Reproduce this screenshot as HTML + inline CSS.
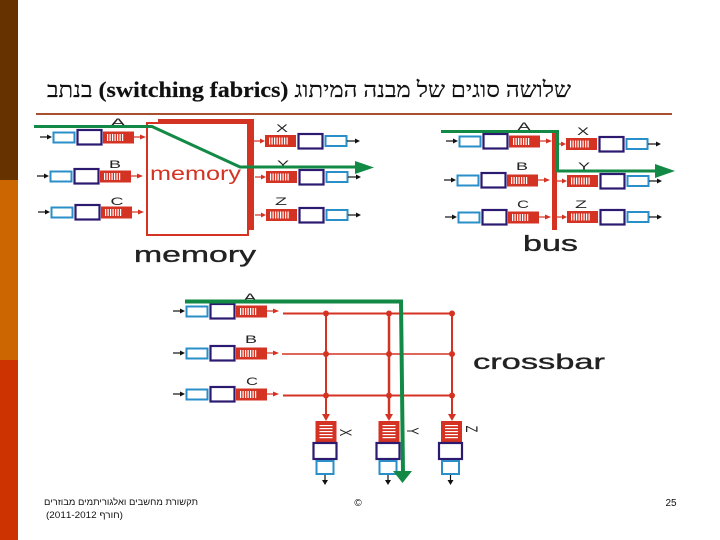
<!DOCTYPE html>
<html lang="he">
<head>
<meta charset="utf-8">
<style>
html,body{margin:0;padding:0;background:#fff;width:720px;height:540px;overflow:hidden}
svg{display:block}
.lbl{font-family:"Liberation Sans",sans-serif;fill:#222}
.cap{stroke:#222;stroke-width:.35}
</style>
</head>
<body>
<svg width="720" height="540" viewBox="0 0 720 540" xmlns="http://www.w3.org/2000/svg">
<defs>
  <!-- input port: origin at row centre, x=0 at start of black arrow -->
  <g id="inp">
    <path d="M0 0H8" stroke="#111" stroke-width="1.2"/><path d="M7 -2.5L12 0L7 2.5Z" fill="#111"/>
    <rect x="13.5" y="-4.5" width="21" height="10" fill="#fff" stroke="#2a8fc8" stroke-width="2"/>
    <rect x="37.5" y="-7" width="24" height="14.500" fill="#fff" stroke="#2b1a70" stroke-width="2.2"/>
    <rect x="63" y="-5.500" width="31" height="12" fill="#d43324"/>
    <g fill="#fff"><rect x="67" y="-3" width="1.2" height="7"/><rect x="69.500" y="-3" width="1.200" height="7"/><rect x="72" y="-3" width="1.200" height="7"/><rect x="74.500" y="-3" width="1.200" height="7"/><rect x="77" y="-3" width="1.200" height="7"/><rect x="79.500" y="-3" width="1.200" height="7"/><rect x="82" y="-3" width="1.200" height="7"/></g>
    <path d="M94 0H102" stroke="#d43324" stroke-width="1.200"/><path d="M100 -2.500L106 0L100 2.500Z" fill="#d43324"/>
  </g>
  <!-- output port: x=0 at start of red arrow -->
  <g id="outp">
    <path d="M0 0H7" stroke="#d43324" stroke-width="1.200"/><path d="M6 -2.500L11 0L6 2.500Z" fill="#d43324"/>
    <rect x="11" y="-6" width="31" height="12" fill="#d43324"/>
    <g fill="#fff"><rect x="15" y="-3.500" width="1.200" height="7"/><rect x="17.500" y="-3.500" width="1.200" height="7"/><rect x="20" y="-3.500" width="1.200" height="7"/><rect x="22.500" y="-3.500" width="1.200" height="7"/><rect x="25" y="-3.500" width="1.200" height="7"/><rect x="27.500" y="-3.500" width="1.200" height="7"/><rect x="30" y="-3.500" width="1.200" height="7"/><rect x="32.500" y="-3.500" width="1.200" height="7"/></g>
    <rect x="44.500" y="-7" width="24" height="14.500" fill="#fff" stroke="#2b1a70" stroke-width="2.2"/>
    <rect x="71.500" y="-5" width="21" height="10" fill="#fff" stroke="#2a8fc8" stroke-width="2"/>
    <path d="M93 0H102" stroke="#111" stroke-width="1.200"/><path d="M101 -2.500L106 0L101 2.500Z" fill="#111"/>
  </g>
  <!-- crossbar vertical output -->
  <g id="vout">
    <rect x="2" y="0" width="21" height="21" fill="#d43324"/>
    <g fill="#fff"><rect x="6" y="4" width="13" height="1.200"/><rect x="6" y="7" width="13" height="1.200"/><rect x="6" y="10" width="13" height="1.200"/><rect x="6" y="13" width="13" height="1.200"/><rect x="6" y="16" width="13" height="1.200"/></g>
    <rect x="0" y="22" width="23" height="16" fill="#fff" stroke="#2b1a70" stroke-width="2.2"/>
    <rect x="3" y="40" width="17" height="13" fill="#fff" stroke="#2a8fc8" stroke-width="2"/>
    <path d="M11.500 54V60" stroke="#111" stroke-width="1.200"/><path d="M8.500 59H14.500L11.500 64Z" fill="#111"/>
  </g>
</defs>

<rect width="720" height="540" fill="#fff"/>
<!-- sidebar -->
<rect x="0" y="0" width="18" height="180" fill="#663300"/>
<rect x="0" y="180" width="18" height="180" fill="#cc6600"/>
<rect x="0" y="360" width="18" height="180" fill="#cc3300"/>

<!-- title -->
<text x="571" y="97" direction="rtl" text-anchor="start" textLength="524" lengthAdjust="spacingAndGlyphs" font-family="'Liberation Serif','Noto Serif CJK SC',serif" font-size="22" fill="#111" stroke="#111" stroke-width=".2">שלושה סוגים של מבנה המיתוג <tspan font-weight="bold">(switching fabrics)</tspan> בנתב</text>
<rect x="36" y="113" width="636" height="2" fill="#a8502f"/>

<!-- MEMORY -->
<path d="M158 119H254V230H248V122H158Z" fill="#d43324"/>
<rect x="147" y="123" width="101" height="112" fill="#fff" stroke="#d43324" stroke-width="2"/>
<rect x="248" y="119" width="6" height="111" fill="#d43324"/>
<use href="#inp" x="40" y="137"/>
<use href="#inp" x="37" y="176"/>
<use href="#inp" x="38" y="212"/>
<use href="#outp" x="254" y="141"/>
<use href="#outp" x="255" y="177"/>
<use href="#outp" x="255" y="215"/>
<text x="150" y="180" class="lbl" style="fill:#d43324" font-size="19" textLength="91" lengthAdjust="spacingAndGlyphs">memory</text>
<text x="134" y="262" class="lbl cap" font-size="22.500" textLength="122" lengthAdjust="spacingAndGlyphs">memory</text>
<g class="lbl" font-size="11" text-anchor="middle">
  <text x="118" y="126" textLength="15" lengthAdjust="spacingAndGlyphs">A</text>
  <text x="115" y="168" textLength="12" lengthAdjust="spacingAndGlyphs">B</text>
  <text x="117" y="205" textLength="13" lengthAdjust="spacingAndGlyphs">C</text>
  <text x="282" y="132" textLength="12" lengthAdjust="spacingAndGlyphs">X</text>
  <text x="283" y="168" textLength="12" lengthAdjust="spacingAndGlyphs">Y</text>
  <text x="281" y="205" textLength="12" lengthAdjust="spacingAndGlyphs">Z</text>
</g>
<path d="M34 126.500H152L240 167H356" fill="none" stroke="#128a46" stroke-width="3"/>
<path d="M355 161L374 167.500L355 174Z" fill="#128a46"/>

<!-- BUS -->
<use href="#inp" x="446" y="141"/>
<use href="#inp" x="444" y="180"/>
<use href="#inp" x="445" y="217"/>
<use href="#outp" x="555" y="144"/>
<use href="#outp" x="556" y="181"/>
<use href="#outp" x="556" y="217"/>
<rect x="552" y="132" width="5" height="98" fill="#d43324"/>
<g class="lbl" font-size="11" text-anchor="middle">
  <text x="524" y="130" textLength="13" lengthAdjust="spacingAndGlyphs">A</text>
  <text x="522" y="170" textLength="12" lengthAdjust="spacingAndGlyphs">B</text>
  <text x="523" y="208" textLength="12" lengthAdjust="spacingAndGlyphs">C</text>
  <text x="583" y="135" textLength="12" lengthAdjust="spacingAndGlyphs">X</text>
  <text x="584" y="170" textLength="12" lengthAdjust="spacingAndGlyphs">Y</text>
  <text x="581" y="208" textLength="12" lengthAdjust="spacingAndGlyphs">Z</text>
</g>
<text x="523" y="251" class="lbl cap" font-size="22" textLength="55" lengthAdjust="spacingAndGlyphs">bus</text>
<path d="M441 131.500H557.500V171H660" fill="none" stroke="#128a46" stroke-width="3"/>
<path d="M655 164L675 171L655 178Z" fill="#128a46"/>

<!-- CROSSBAR -->
<use href="#inp" x="173" y="311"/>
<use href="#inp" x="173" y="353"/>
<use href="#inp" x="173" y="394"/>
<g stroke="#d43324" fill="none">
  <path d="M283 313.500H452" stroke-width="2"/>
  <path d="M282 354H452" stroke-width="1.500"/>
  <path d="M283 395.500H452" stroke-width="2"/>
  <path d="M326 313V414" stroke-width="2"/>
  <path d="M389 313V414" stroke-width="2.500"/>
  <path d="M452 313V414" stroke-width="2"/>
</g>
<g fill="#d43324">
  <circle cx="326" cy="313.500" r="3"/><circle cx="389" cy="313.500" r="3"/><circle cx="452" cy="313.500" r="3"/>
  <circle cx="326" cy="354" r="3"/><circle cx="389" cy="354" r="3"/><circle cx="452" cy="354" r="3"/>
  <circle cx="326" cy="395.500" r="3"/><circle cx="389" cy="395.500" r="3"/><circle cx="452" cy="395.500" r="3"/>
  <path d="M322 414H330L326 421Z"/><path d="M385 414H393L389 421Z"/><path d="M448 414H456L452 421Z"/>
</g>
<use href="#vout" x="313.500" y="421"/>
<use href="#vout" x="376.500" y="421"/>
<use href="#vout" x="439" y="421"/>
<g class="lbl" font-size="11" text-anchor="middle">
  <text x="250" y="301" textLength="13" lengthAdjust="spacingAndGlyphs">A</text>
  <text x="251" y="343" textLength="12" lengthAdjust="spacingAndGlyphs">B</text>
  <text x="252" y="385" textLength="12" lengthAdjust="spacingAndGlyphs">C</text>
  <text transform="translate(340 432.500) rotate(90) scale(1 1.500)">X</text>
  <text transform="translate(407 431) rotate(90) scale(1 1.500)">Y</text>
  <text transform="translate(466 429) rotate(90) scale(1 1.500)">Z</text>
</g>
<text x="473" y="369" class="lbl cap" font-size="21" textLength="132" lengthAdjust="spacingAndGlyphs">crossbar</text>
<path d="M185 301.500H401L403 473" fill="none" stroke="#128a46" stroke-width="4"/>
<path d="M393 471H412L402.500 483Z" fill="#128a46"/>

<!-- footer -->
<g font-family="'Liberation Sans','Noto Sans CJK SC',sans-serif" fill="#111">
  <text x="198" y="505" direction="rtl" font-size="9" textLength="154" lengthAdjust="spacingAndGlyphs">תקשורת מחשבים ואלגוריתמים מבוזרים</text>
  <text x="123" y="518" direction="rtl" font-size="9" textLength="77" lengthAdjust="spacingAndGlyphs">(חורף 2011-2012)</text>
  <text x="358" y="506" font-size="10" text-anchor="middle">©</text>
  <text x="671" y="506" font-size="10" text-anchor="middle">25</text>
</g>
</svg>
</body>
</html>
